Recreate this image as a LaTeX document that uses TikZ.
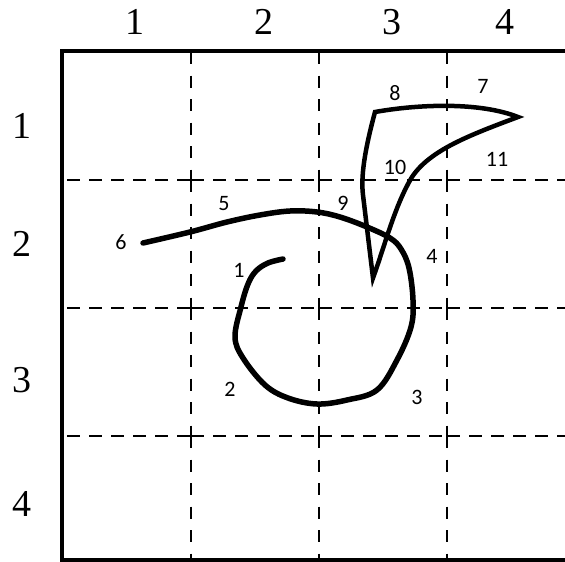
\documentclass[tikz,border=0pt]{standalone}
\usepackage{fontspec}
\setmainfont{Liberation Serif}
\newfontfamily\lblfont{Carlito}
\begin{document}
\begin{tikzpicture}[x=1pt,y=-1pt,
  hdash/.style={line width=1.8pt, dash pattern=on 13pt off 9pt},
  vdash/.style={line width=1.8pt, dash pattern=on 12pt off 11.5pt},
  border/.style={line width=3.8pt},
  stroke/.style={line width=5.5pt, line cap=round, line join=round},
  vstroke/.style={line width=4.5pt, line join=miter, miter limit=20},
  axislbl/.style={font=\fontsize{38}{40}\selectfont, inner sep=0pt},
  numlbl/.style={font=\lblfont\fontsize{22}{24}\selectfont, inner sep=0pt}]
\useasboundingbox (0,0) rectangle (565,562);
% dashed grid
\foreach \y in {180,308,436}{
  \draw[hdash] (67,\y) -- (191,\y);
  \foreach \x in {191,319,447} \draw[hdash] (\x,\y) -- ++(128,0);
}
\foreach \x in {191,319,447}{
  \foreach \y in {52,180,308,436} \draw[vdash] (\x,\y) -- ++(0,128);
}
% border
\draw[border] (62,562) -- (62,51) -- (565,51);
\draw[border] (62,560) -- (565,560);
% axis labels
\node[axislbl] (c1) at (135,22) {1};
\node[axislbl] (c2) at (264,22) {2};
\node[axislbl] (c3) at (392,22) {3};
\node[axislbl] (c4) at (505,22) {4};
\node[axislbl] (r1) at (22,126) {1};
\node[axislbl] (r2) at (22,244) {2};
\node[axislbl] (r3) at (22,380) {3};
\node[axislbl] (r4) at (22,504) {4};
% spiral stroke
\draw[stroke] plot[smooth, tension=0.6] coordinates {
 (283,259) (268,263) (256,271) (248,284) (241,307) (235,337) (243,358)
 (265,385) (288,398) (317,404) (347,400) (377,390) (397,360) (411,327)
 (413,300) (409,268) (401,249) (390,238) (367,227) (340,217) (317,212)
 (290,211) (260,215) (227,222) (190,232) (143,243)};
% V shape
\draw[vstroke] (373,278) -- (363,195) .. controls (360,172) and (368,138) .. (375,112)
  .. controls (420,104) and (480,102) .. (518,117)
  .. controls (470,135) and (430,150) .. (412,177)
  .. controls (395,205) and (385,245) .. cycle;
% number labels
\node[numlbl] (n1) at (239,270) {1};
\node[numlbl] (n2) at (230,389) {2};
\node[numlbl] (n3) at (417,397) {3};
\node[numlbl] (n4) at (432,256) {4};
\node[numlbl] (n5) at (224,204) {5};
\node[numlbl] (n6) at (121,242) {6};
\node[numlbl] (n7) at (483,86) {7};
\node[numlbl] (n8) at (395,93) {8};
\node[numlbl] (n9) at (343,203) {9};
\node[numlbl] (n10) at (395,167) {10};
\node[numlbl] (n11) at (497,159) {11};
\end{tikzpicture}
\end{document}
